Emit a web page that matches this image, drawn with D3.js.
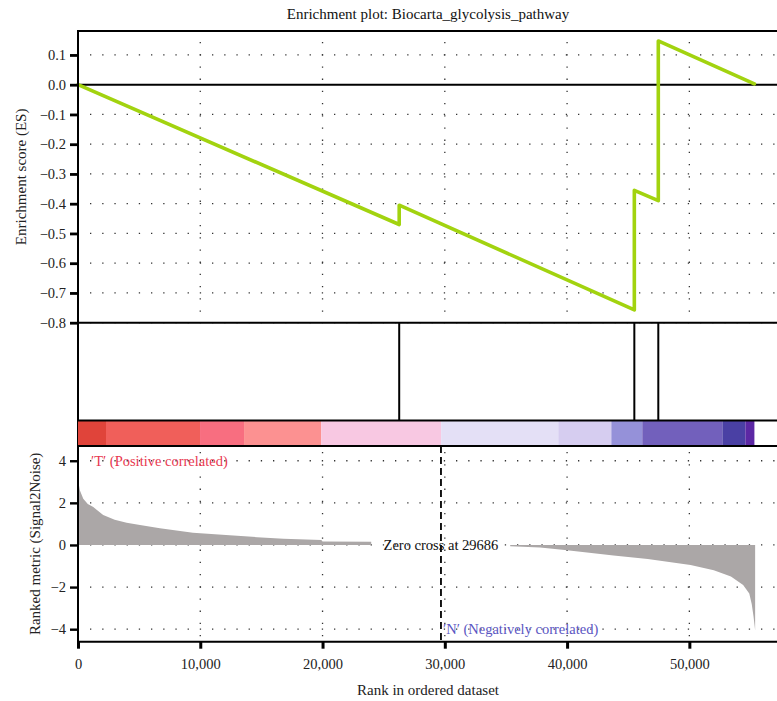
<!DOCTYPE html>
<html>
<head>
<meta charset="utf-8">
<script src="https://cdn.jsdelivr.net/npm/d3@7"></script>
<style>
  html, body { margin: 0; padding: 0; background: #fff; }
  svg { display: block; }
  text { font-family: "Liberation Serif", serif; }
</style>
</head>
<body>
<svg id="chart" width="777" height="701"></svg>
<script>
// ---- data ----
const title = "Enrichment plot: Biocarta_glycolysis_pathway";

// running enrichment score (rank, ES) — linear decline between hits, jumps at hits
const esRanks  = [0, 26270, 26270, 45500, 45500, 47460, 47460, 55320];
const esValues = [0, -0.470, -0.405, -0.757, -0.355, -0.390, 0.147, 0.003];

// ranks of the gene-set members (hit lines)
const hitRanks = [26270, 45500, 47460];

// ranked list metric, positive side
const posRanks  = [0, 150, 430, 800, 1250, 2060, 3000, 3980, 5070, 6700, 8350, 9400, 10000, 12400, 14650, 16800, 19900, 20000, 23980];
const posValues = [3.1, 2.6, 2.2, 1.95, 1.8, 1.42, 1.2, 1.06, 0.95, 0.79, 0.66, 0.58, 0.56, 0.46, 0.37, 0.29, 0.24, 0.16, 0.15];

// ranked list metric, negative side
const negRanks  = [35350, 37800, 40000, 43800, 46600, 50100, 52000, 53400, 54400, 54900, 55100, 55250, 55380];
const negValues = [-0.06, -0.12, -0.25, -0.5, -0.67, -0.95, -1.2, -1.5, -1.9, -2.3, -2.8, -3.4, -4.05];

// colour band along the ranked list
const bandStarts = [0, 2290, 9980, 13580, 19890, 29700, 39280, 43620, 46150, 52700, 54580];
const bandEnds   = [2290, 9980, 13580, 19890, 29700, 39280, 43620, 46150, 52700, 54580, 55320];
const bandColors = ["#e0443a", "#f05f5a", "#f86e80", "#fc9191", "#f8c8e2", "#e4e0f6", "#d6cdf0", "#9591d9", "#7260bc", "#4a40a4", "#5c28a4"];

const zeroCross = 29686;
const esTicks = [0.1, 0.0, -0.1, -0.2, -0.3, -0.4, -0.5, -0.6, -0.7, -0.8];
const metricTicks = [4, 2, 0, -2, -4];
const rankTicks = [0, 10000, 20000, 30000, 40000, 50000];

// ---- layout ----
const svg = d3.select("#chart");
const left = 78, right = 778;
const esTop = 31, esBottom = 322.7;
const hitTop = esBottom, hitBottom = 420.5;
const bandTop = 421, bandBottom = 446;
const mTop = 446, mBottom = 641.7;
const FONT = "Liberation Serif, serif";

const x = d3.scaleLinear().domain([0, 57250]).range([left, right]);
const yES = d3.scaleLinear().domain([-0.8, 0.1805]).range([esBottom, esTop]);
const yM = d3.scaleLinear().domain([-4.594, 4.70]).range([mBottom, mTop]);

const dotted = { stroke: "#333", "stroke-width": 1.3, "stroke-dasharray": "1.3 10.9" };
function applyAttrs(sel, a) { for (const k in a) sel.attr(k, a[k]); return sel; }

// ---- title ----
svg.append("text").attr("x", (left + right) / 2).attr("y", 19)
  .attr("text-anchor", "middle").attr("font-size", 15).attr("fill", "#111")
  .text(title);

// ---- ES panel ----
const gES = svg.append("g");
esTicks.filter(d => d !== 0).forEach(v => {
  applyAttrs(gES.append("line").attr("x1", left + 12).attr("x2", right)
    .attr("y1", yES(v)).attr("y2", yES(v)), dotted);
});
rankTicks.filter(d => d > 0).forEach(r => {
  applyAttrs(gES.append("line").attr("x1", x(r)).attr("x2", x(r))
    .attr("y1", esTop + 11).attr("y2", esBottom), dotted);
});
gES.append("line").attr("x1", left).attr("x2", right)
  .attr("y1", yES(0)).attr("y2", yES(0)).attr("stroke", "#000").attr("stroke-width", 2);
const esLine = d3.line().x((d, i) => x(esRanks[i])).y((d, i) => yES(esValues[i]));
gES.append("path").attr("d", esLine(esRanks))
  .attr("fill", "none").attr("stroke", "#a2d30f").attr("stroke-width", 3.6)
  .attr("stroke-linejoin", "round").attr("stroke-linecap", "round");
const axES = svg.append("g").attr("transform", `translate(${left},0)`)
  .call(d3.axisLeft(yES).tickValues(esTicks).tickFormat(d3.format(".1f")).tickSize(8).tickPadding(4));
axES.select(".domain").remove();
axES.selectAll(".tick line").attr("stroke", "#000").attr("stroke-width", 2.8);
axES.selectAll(".tick text").attr("font-size", 14.5).attr("fill", "#222").attr("font-family", FONT);
svg.append("path").attr("d", `M${right},${esTop}H${left}V${esBottom}H${right}`)
  .attr("fill", "none").attr("stroke", "#000").attr("stroke-width", 2);
svg.append("text").attr("transform", `translate(21,${(esTop + esBottom) / 2}) rotate(-90)`)
  .attr("text-anchor", "middle").attr("dominant-baseline", "central")
  .attr("font-size", 15).attr("fill", "#222").text("Enrichment score (ES)");

// ---- hit panel ----
hitRanks.forEach(r => {
  svg.append("line").attr("x1", x(r)).attr("x2", x(r))
    .attr("y1", hitTop).attr("y2", hitBottom)
    .attr("stroke", "#000").attr("stroke-width", 2);
});
svg.append("line").attr("x1", left).attr("x2", left).attr("y1", hitTop).attr("y2", bandBottom)
  .attr("stroke", "#000").attr("stroke-width", 2);

// ---- colour band ----
bandStarts.forEach((s, i) => {
  svg.append("rect").attr("x", x(s)).attr("y", bandTop)
    .attr("width", x(bandEnds[i]) - x(s)).attr("height", bandBottom - bandTop)
    .attr("fill", bandColors[i]);
});
svg.append("line").attr("x1", left).attr("x2", right).attr("y1", hitBottom).attr("y2", hitBottom)
  .attr("stroke", "#000").attr("stroke-width", 2);

// ---- ranked metric panel ----
const gM = svg.append("g");
metricTicks.forEach(v => {
  applyAttrs(gM.append("line").attr("x1", left + 12).attr("x2", right)
    .attr("y1", yM(v)).attr("y2", yM(v)), dotted);
});
rankTicks.filter(d => d > 0).forEach(r => {
  applyAttrs(gM.append("line").attr("x1", x(r)).attr("x2", x(r))
    .attr("y1", mTop + 6).attr("y2", mBottom), dotted);
});
const metricArea = d3.area().x(d => x(d[0])).y0(yM(0)).y1(d => yM(d[1]));
gM.append("path").attr("d", metricArea(posRanks.map((r, i) => [r, posValues[i]])))
  .attr("fill", "#aba7a7");
gM.append("path").attr("d", metricArea(negRanks.map((r, i) => [r, negValues[i]])))
  .attr("fill", "#aba7a7");
gM.append("line").attr("x1", x(zeroCross)).attr("x2", x(zeroCross))
  .attr("y1", mTop).attr("y2", mBottom)
  .attr("stroke", "#000").attr("stroke-width", 1.8).attr("stroke-dasharray", "7 4");
gM.append("text").attr("x", x(zeroCross)).attr("y", yM(0)).attr("dominant-baseline", "central")
  .attr("text-anchor", "middle").attr("font-size", 14.5).attr("fill", "#111")
  .text("Zero cross at " + zeroCross);
gM.append("text").attr("x", 91).attr("y", yM(4)).attr("dominant-baseline", "central")
  .attr("font-size", 14.5).attr("fill", "#e8384f").text("′T′ (Positive correlated)");
gM.append("text").attr("x", 443).attr("y", yM(-4)).attr("dominant-baseline", "central")
  .attr("font-size", 14.5).attr("fill", "#5a55c2").text("′N′ (Negatively correlated)");

const axM = svg.append("g").attr("transform", `translate(${left},0)`)
  .call(d3.axisLeft(yM).tickValues(metricTicks).tickFormat(d3.format("d")).tickSize(8).tickPadding(4));
axM.select(".domain").remove();
axM.selectAll(".tick line").attr("stroke", "#000").attr("stroke-width", 2.4);
axM.selectAll(".tick text").attr("font-size", 14.5).attr("fill", "#222").attr("font-family", FONT);
svg.append("path").attr("d", `M${right},${mTop}H${left}V${mBottom}H${right}`)
  .attr("fill", "none").attr("stroke", "#000").attr("stroke-width", 2);
svg.append("text").attr("transform", `translate(35,${(mTop + mBottom) / 2}) rotate(-90)`)
  .attr("text-anchor", "middle").attr("dominant-baseline", "central")
  .attr("font-size", 15).attr("fill", "#222").text("Ranked metric (Signal2Noise)");

// ---- x axis ----
const axX = svg.append("g").attr("transform", `translate(0,${mBottom})`)
  .call(d3.axisBottom(x).tickValues(rankTicks).tickFormat(d3.format(",")).tickSize(7).tickPadding(10));
axX.select(".domain").remove();
axX.selectAll(".tick line").attr("stroke", "#000").attr("stroke-width", 3);
axX.selectAll(".tick text").attr("font-size", 14.5).attr("fill", "#222").attr("font-family", FONT);
svg.append("text").attr("x", (left + right) / 2).attr("y", 695)
  .attr("text-anchor", "middle").attr("font-size", 15).attr("fill", "#222")
  .text("Rank in ordered dataset");
</script>
</body>
</html>
